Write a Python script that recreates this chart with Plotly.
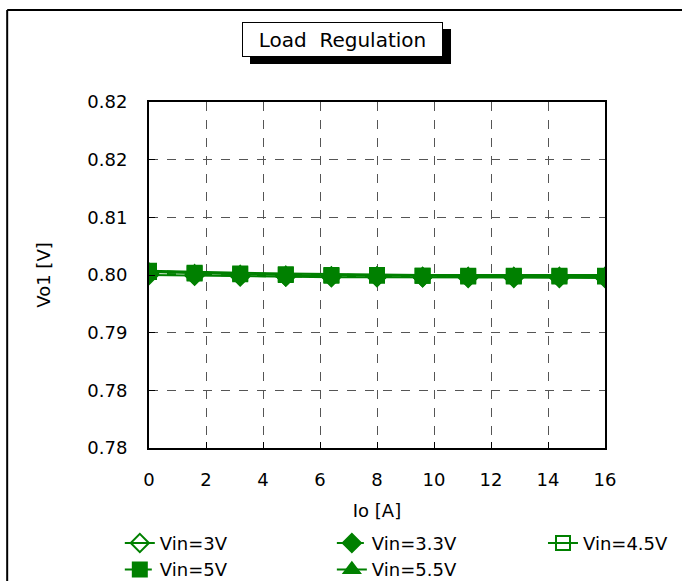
import plotly.graph_objects as go

# Output current sweep [A]
io = [0, 1.6, 3.2, 4.8, 6.4, 8.0, 9.6, 11.2, 12.8, 14.4, 16.0]

# Output voltage Vo1 [V] for each input voltage
vo_3v0 = [0.8000, 0.7999, 0.7998, 0.7998, 0.7997, 0.7997, 0.7997, 0.7996, 0.7996, 0.7996, 0.7996]
vo_3v3 = [0.8002, 0.8000, 0.7999, 0.7998, 0.7998, 0.7998, 0.7997, 0.7997, 0.7997, 0.7997, 0.7997]
vo_4v5 = [0.8004, 0.8002, 0.8001, 0.8000, 0.7999, 0.7999, 0.7999, 0.7998, 0.7998, 0.7998, 0.7998]
vo_5v0 = [0.8006, 0.8003, 0.8002, 0.8001, 0.8000, 0.8000, 0.7999, 0.7999, 0.7999, 0.7999, 0.7999]
vo_5v5 = [0.8006, 0.8004, 0.8003, 0.8002, 0.8001, 0.8001, 0.8000, 0.8000, 0.8000, 0.8000, 0.8000]

names = ["Vin=3V", "Vin=3.3V", "Vin=4.5V", "Vin=5V", "Vin=5.5V"]
series = [vo_3v0, vo_3v3, vo_4v5, vo_5v0, vo_5v5]
symbols = ["diamond-open", "diamond", "square-open", "square", "triangle-up"]
dashes = ["solid", "dash", "solid", "dash", "solid"]
# legend column for each series (3 columns, filled row by row)
legend_ids = ["legend", "legend2", "legend3", "legend", "legend2"]

x_ticks = list(range(0, 17, 2))
y_min, y_max, y_step = 0.776, 0.824, 0.008

GREEN = "#008000"
FONT = "'DejaVu Sans', sans-serif"

fig = go.Figure()
for name, vals, sym, dash, lg in zip(names, series, symbols, dashes, legend_ids):
    fig.add_trace(go.Scatter(
        x=io, y=vals, name=name, mode="lines+markers", legend=lg,
        line=dict(color=GREEN, width=2, dash=dash),
        marker=dict(symbol=sym, size=14, color=GREEN,
                    line=dict(color=GREEN, width=2)),
    ))

axis_common = dict(
    showline=True, linecolor="black", linewidth=2, mirror=True,
    ticks="inside", ticklen=6, tickcolor="black", tickwidth=1,
    showgrid=True, gridcolor="#555555", gridwidth=1, griddash="dash",
    zeroline=False, tickfont=dict(family=FONT, size=18, color="black"),
)

fig.update_xaxes(
    range=[0, 16], tickvals=x_ticks, ticklabelstandoff=14,
    title=dict(text="Io [A]", font=dict(family=FONT, size=18, color="black"), standoff=16),
    **axis_common,
)
fig.update_yaxes(
    range=[y_min, y_max], tick0=y_min, dtick=y_step, tickformat=".2f",
    ticklabelstandoff=16,
    title=dict(text="Vo1 [V]", font=dict(family=FONT, size=18, color="black"), standoff=32),
    **axis_common,
)

# Drop shadow behind the title box
fig.add_shape(type="rect", xref="paper", yref="paper",
              x0=0.2215, x1=0.6623, y0=1.1098, y1=1.211,
              fillcolor="black", line=dict(width=0))

# Boxed title
fig.add_annotation(
    text="Load&nbsp;&nbsp;Regulation", xref="paper", yref="paper",
    x=0.424, y=1.1806, xanchor="center", yanchor="middle",
    showarrow=False, width=189, height=23, align="center",
    font=dict(family=FONT, size=20, color="black"),
    bgcolor="white", bordercolor="black", borderwidth=1, borderpad=5,
)

# Outer frame (left and top edges)
fig.add_shape(type="line", xref="paper", yref="paper",
              x0=-0.311, x1=1.2, y0=1.266, y1=1.266,
              line=dict(color="black", width=2))
fig.add_shape(type="line", xref="paper", yref="paper",
              x0=-0.311, x1=-0.311, y0=-0.4, y1=1.266,
              line=dict(color="black", width=2))

legend_common = dict(
    orientation="v", y=-0.222, xanchor="left", yanchor="top",
    font=dict(family=FONT, size=18, color="black"),
    bgcolor="rgba(0,0,0,0)", tracegroupgap=0, itemwidth=30,
)

fig.update_layout(
    width=682, height=581,
    margin=dict(l=149, r=77, t=102, b=133, autoexpand=False),
    paper_bgcolor="white", plot_bgcolor="white",
    font=dict(family=FONT, size=18, color="black"),
    legend=dict(x=-0.064, **legend_common),
    legend2=dict(x=0.401, **legend_common),
    legend3=dict(x=0.864, **legend_common),
    showlegend=True,
)

fig.write_html("out.html")
